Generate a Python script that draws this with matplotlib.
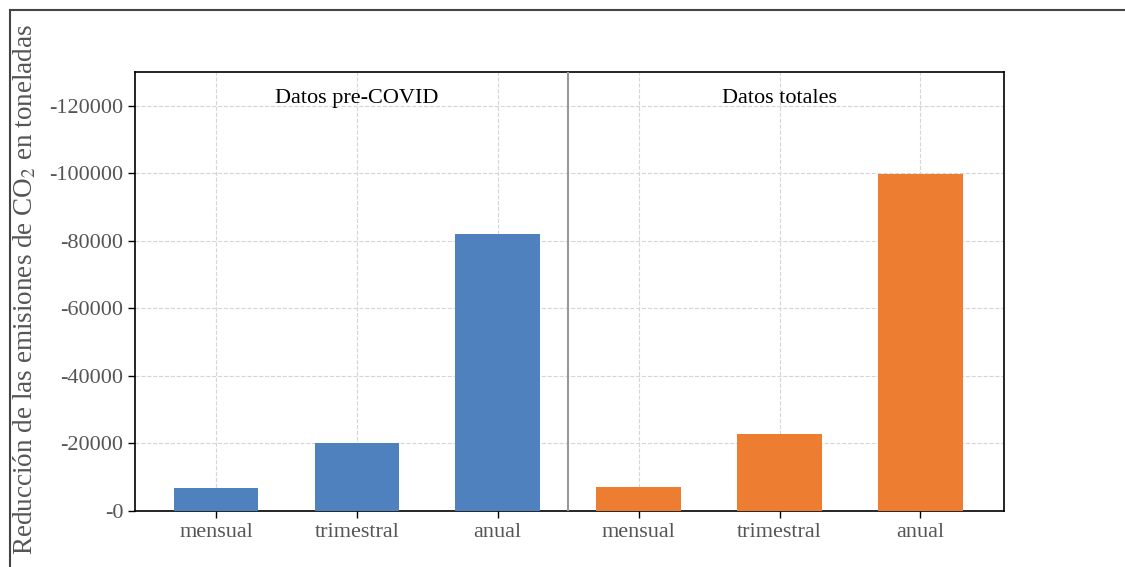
import matplotlib.pyplot as plt
from matplotlib.lines import Line2D

plt.rcParams['font.family'] = ['Liberation Serif', 'DejaVu Serif']
plt.rcParams['mathtext.fontset'] = 'stix'

categorias = ["mensual", "trimestral", "anual", "mensual", "trimestral", "anual"]
pre_covid = [6800, 20100, 82000]
totales = [7100, 22800, 99900]
yticks = [0, 20000, 40000, 60000, 80000, 100000, 120000]
ytick_labels = ["-0", "-20000", "-40000", "-60000", "-80000", "-100000", "-120000"]

fig = plt.figure(figsize=(11.25, 5.67), dpi=100)
ax = fig.add_axes([0.12, 0.099, 0.772, 0.774])

x = list(range(len(categorias)))
ax.bar(x[:3], pre_covid, width=0.6, color="#4e81bd", zorder=3)
ax.bar(x[3:], totales, width=0.6, color="#ed7d31", zorder=3)
ax.axvline(2.5, color="#999999", linewidth=1.5, zorder=4)

ax.set_xlim(-0.575, 5.59)
ax.set_ylim(0, 130000)
ax.set_xticks(x)
ax.set_xticklabels(categorias)
ax.set_yticks(yticks)
ax.set_yticklabels(ytick_labels)
ax.tick_params(labelsize=16, labelcolor="#555555", length=5, width=1)
ax.grid(True, linestyle="--", color="#d5d5d5", linewidth=0.8, zorder=0)
for s in ax.spines.values():
    s.set_linewidth(1.2)

ax.text(1, 0.94, "Datos pre-COVID", transform=ax.get_xaxis_transform(),
        ha="center", va="center", fontsize=16)
ax.text(4, 0.94, "Datos totales", transform=ax.get_xaxis_transform(),
        ha="center", va="center", fontsize=16)

fig.text(0.022, 0.49, "Reducción de las emisiones de CO$_2$ en toneladas",
         rotation=90, ha="center", va="center", fontsize=19.5, color="#555555")

# marco exterior
fig.add_artist(Line2D([0.009, 1.0], [0.982, 0.982], transform=fig.transFigure,
                      color="#444444", linewidth=1.5))
fig.add_artist(Line2D([0.009, 0.009], [0.0, 0.982], transform=fig.transFigure,
                      color="#444444", linewidth=1.5))

fig.savefig("out.png", dpi=100)
